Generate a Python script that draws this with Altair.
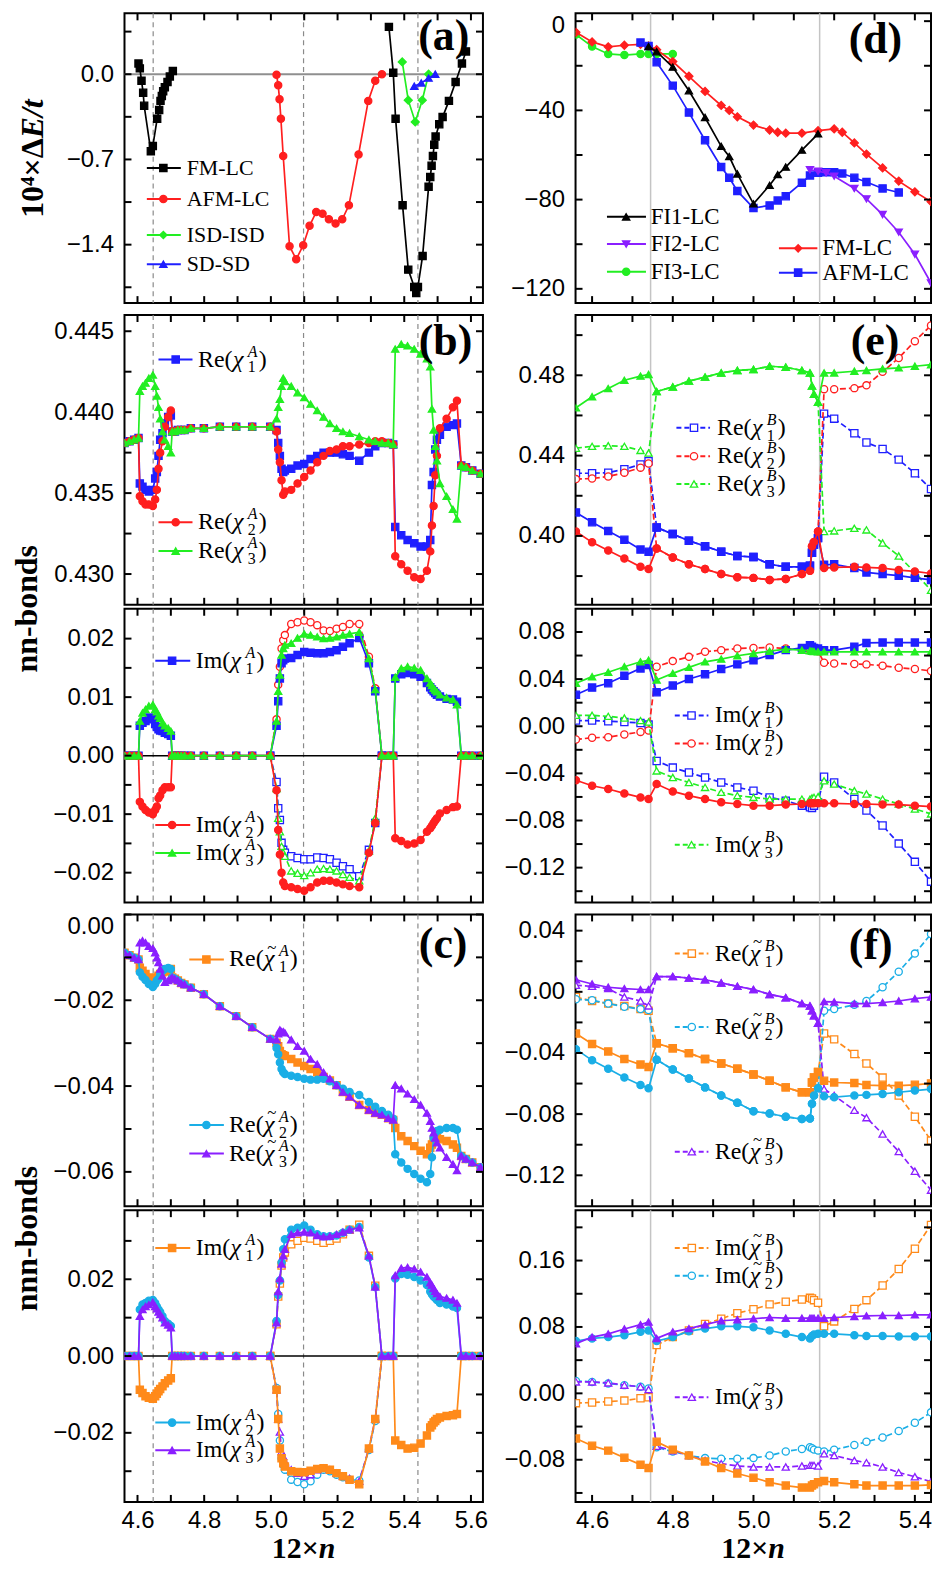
import altair as alt
import pandas as pd

SERIF = "Liberation Serif"
SANS = "Liberation Sans"

BLACK = "#000000"
RED = "#ff1f1f"
BLUE = "#1f1fff"
GREEN = "#22ee22"
PURPLE = "#8a1fff"
ORANGE = "#ff8a1a"
CYAN = "#1aaee6"

# ---------------- x grids ----------------
XL = [4.561, 4.576, 4.590, 4.603, 4.607, 4.615, 4.624, 4.634, 4.646, 4.653,
      4.658, 4.663, 4.668, 4.675, 4.682, 4.692, 4.700, 4.704, 4.712, 4.721,
      4.731, 4.741, 4.760, 4.799, 4.847, 4.896, 4.944, 4.998, 5.017, 5.022,
      5.027, 5.032, 5.037, 5.042, 5.061, 5.080, 5.100, 5.119, 5.139, 5.158,
      5.177, 5.197, 5.216, 5.236, 5.265, 5.294, 5.313, 5.333, 5.352, 5.367,
      5.373, 5.391, 5.410, 5.430, 5.449, 5.468, 5.478, 5.483, 5.488, 5.493,
      5.498, 5.507, 5.527, 5.546, 5.558, 5.571, 5.585, 5.604, 5.629]
XM = [4.998, 5.017, 5.022, 5.027, 5.032, 5.037, 5.042, 5.061, 5.080, 5.100,
      5.119, 5.139, 5.158, 5.177, 5.197, 5.216, 5.236, 5.265, 5.294, 5.313, 5.333]
XR = [4.56, 4.60, 4.64, 4.68, 4.72, 4.74, 4.76, 4.80, 4.84, 4.88,
      4.92, 4.96, 5.00, 5.04, 5.08, 5.12, 5.14, 5.145, 5.15, 5.16,
      5.175, 5.20, 5.25, 5.28, 5.32, 5.36, 5.40, 5.44]

# ---------------- panel (a) ----------------
A_FM1_X = [4.603, 4.607, 4.612, 4.617, 4.620, 4.640, 4.646, 4.659, 4.665, 4.669, 4.673, 4.677, 4.682, 4.690, 4.697, 4.706]
A_FM1_Y = [0.088, 0.048, -0.053, -0.152, -0.259, -0.632, -0.590, -0.365, -0.293, -0.219, -0.179, -0.139, -0.107, -0.064, -0.019, 0.027]
A_FM2_X = [5.354, 5.367, 5.374, 5.395, 5.412, 5.430, 5.436, 5.441, 5.455, 5.473, 5.478, 5.482, 5.486, 5.490, 5.494, 5.505, 5.515, 5.534, 5.554, 5.573, 5.585]
A_FM2_Y = [0.389, 0.013, -0.365, -1.077, -1.605, -1.747, -1.797, -1.747, -1.493, -0.925, -0.845, -0.752, -0.672, -0.579, -0.512, -0.411, -0.352, -0.219, -0.064, 0.088, 0.187]
A_AFM_X = [5.017, 5.022, 5.026, 5.030, 5.037, 5.056, 5.076, 5.097, 5.116, 5.136, 5.155, 5.174, 5.194, 5.214, 5.234, 5.263, 5.292, 5.313, 5.333]
A_AFM_Y = [-0.005, -0.091, -0.205, -0.365, -0.672, -1.413, -1.520, -1.405, -1.245, -1.131, -1.147, -1.192, -1.227, -1.192, -1.077, -0.659, -0.219, -0.053, 0.0]
A_ISD_X = [5.394, 5.412, 5.433, 5.454, 5.473]
A_ISD_Y = [0.101, -0.213, -0.392, -0.213, 0.0]
A_SD_X = [5.430, 5.451, 5.473, 5.493]
A_SD_Y = [-0.099, -0.072, -0.032, 0.0]

# ---------------- panel (d) ----------------
D_FM_X = [4.56, 4.60, 4.64, 4.68, 4.72, 4.74, 4.76, 4.80, 4.84, 4.88, 4.92, 4.94, 4.96, 5.00,
          5.04, 5.06, 5.08, 5.12, 5.16, 5.20, 5.22, 5.25, 5.28, 5.32, 5.36, 5.40, 5.44]
D_FM_Y = [-5.0, -9.3, -11.5, -10.8, -10.4, -11.1, -12.8, -18.1, -24.7, -31.5, -37.8, -40.0, -42.9, -46.6,
          -48.8, -49.8, -50.2, -50.2, -49.1, -48.3, -49.8, -54.6, -59.6, -65.8, -71.7, -76.5, -80.9]
D_FI1_X = [4.74, 4.76, 4.80, 4.84, 4.88, 4.92, 4.94, 4.96, 5.00, 5.04, 5.06, 5.08, 5.12, 5.16]
D_FI1_Y = [-11.4, -13.7, -20.6, -31.2, -43.2, -56.1, -60.7, -68.5, -81.9, -73.6, -68.8, -65.4, -57.8, -50.5]
D_FI2_X = [5.14, 5.16, 5.18, 5.20, 5.25, 5.28, 5.32, 5.36, 5.40, 5.44]
D_FI2_Y = [-66.6, -67.3, -68.0, -69.5, -75.0, -79.7, -86.7, -94.6, -104.5, -117.4]
D_FI3_X = [4.56, 4.60, 4.64, 4.68, 4.72, 4.74, 4.76, 4.80]
D_FI3_Y = [-6.0, -11.4, -14.7, -15.2, -14.7, -14.7, -14.7, -14.7]
D_AFM_X = [4.72, 4.74, 4.76, 4.80, 4.84, 4.88, 4.92, 4.94, 4.96, 5.00, 5.04, 5.06, 5.08, 5.12,
           5.14, 5.16, 5.18, 5.20, 5.22, 5.25, 5.28, 5.32, 5.36]
D_AFM_Y = [-9.6, -11.1, -18.4, -28.9, -41.0, -53.4, -65.4, -70.2, -76.1, -83.8, -82.6, -80.4, -78.5, -72.4,
           -69.2, -68.0, -67.7, -67.7, -68.3, -70.2, -72.1, -75.0, -76.8]

# ---------------- panel (b) Re ----------------
BRE_1 = [0.4381, 0.4382, 0.4383, 0.4384, 0.4356, 0.4354, 0.4352, 0.4351, 0.4352, 0.4359,
         0.4363, 0.4373, 0.4383, 0.4387, 0.4393, 0.4397, 0.4398, 0.4388, 0.4388, 0.4389,
         0.4389, 0.4389, 0.4390, 0.4390, 0.4391, 0.4391, 0.4391, 0.4391, 0.4389, 0.4381,
         0.4373, 0.4365, 0.4363, 0.4364, 0.4365, 0.4367, 0.4368, 0.4371, 0.4373, 0.4375,
         0.4375, 0.4375, 0.4374, 0.4373, 0.4370, 0.4375, 0.4379, 0.4381, 0.4381, 0.4380,
         0.4329, 0.4324, 0.4321, 0.4319, 0.4317, 0.4317, 0.4321, 0.4355, 0.4363, 0.4377,
         0.4383, 0.4386, 0.4391, 0.4392, 0.4393, 0.4367, 0.4366, 0.4364, 0.4362]
BRE_2 = [0.4381, 0.4382, 0.4383, 0.4384, 0.4348, 0.4345, 0.4343, 0.4343, 0.4342, 0.4346,
         0.4352, 0.4365, 0.4375, 0.4382, 0.4391, 0.4397, 0.4401, 0.4388, 0.4388, 0.4389,
         0.4389, 0.4389, 0.4390, 0.4390, 0.4391, 0.4391, 0.4391, 0.4391, 0.4388, 0.4377,
         0.4369, 0.4358, 0.4349, 0.4351, 0.4352, 0.4356, 0.4360, 0.4364, 0.4369, 0.4373,
         0.4376, 0.4377, 0.4379, 0.4379, 0.4380, 0.4381, 0.4382, 0.4382, 0.4381, 0.4380,
         0.4311, 0.4306, 0.4302, 0.4298, 0.4297, 0.4302, 0.4314, 0.4330, 0.4342, 0.4361,
         0.4373, 0.4390, 0.4396, 0.4403, 0.4407, 0.4367, 0.4366, 0.4364, 0.4362]
BRE_3 = [0.4381, 0.4382, 0.4383, 0.4384, 0.4413, 0.4416, 0.4418, 0.4421, 0.4423, 0.4416,
         0.4410, 0.4403, 0.4396, 0.4388, 0.4383, 0.4379, 0.4375, 0.4388, 0.4388, 0.4389,
         0.4389, 0.4389, 0.4390, 0.4390, 0.4391, 0.4391, 0.4391, 0.4391, 0.4396, 0.4403,
         0.4408, 0.4416, 0.4421, 0.4419, 0.4416, 0.4412, 0.4409, 0.4405, 0.4401, 0.4397,
         0.4393, 0.4390, 0.4388, 0.4387, 0.4385, 0.4383, 0.4382, 0.4381, 0.4381, 0.4380,
         0.4439, 0.4442, 0.4441, 0.4439, 0.4436, 0.4433, 0.4428, 0.4402, 0.4389, 0.4379,
         0.4370, 0.4356, 0.4348, 0.4340, 0.4334, 0.4367, 0.4366, 0.4364, 0.4362]

# ---------------- panel (b) Im ----------------
BIM_1 = [0, 0, 0, 0, 0.0051, 0.0056, 0.0059, 0.0065, 0.0062, 0.0054,
         0.0049, 0.0045, 0.0043, 0.0042, 0.0039, 0.0037, 0.0034, 0, 0, 0,
         0, 0, 0, 0, 0, 0, 0, 0, 0.0051, 0.0093,
         0.0132, 0.0158, 0.0163, 0.0166, 0.0167, 0.0172, 0.0177, 0.0176, 0.0175, 0.0175,
         0.0177, 0.0180, 0.0186, 0.0192, 0.0201, 0.0158, 0.0110, 0, 0, 0,
         0.0132, 0.0139, 0.0141, 0.0139, 0.0135, 0.0124, 0.0117, 0.0113, 0.0110, 0.0107,
         0.0104, 0.0101, 0.0097, 0.0096, 0.0092, 0, 0, 0, 0]
BIM_2 = [0, 0, 0, 0, -0.0079, -0.0087, -0.0093, -0.0097, -0.0100, -0.0093,
         -0.0087, -0.0073, -0.0068, -0.0059, -0.0054, -0.0054, -0.0054, 0, 0, 0,
         0, 0, 0, 0, 0, 0, 0, 0, -0.0059, -0.0127,
         -0.0169, -0.0200, -0.0217, -0.0223, -0.0225, -0.0228, -0.0231, -0.0225, -0.0217, -0.0214,
         -0.0214, -0.0217, -0.0220, -0.0223, -0.0225, -0.0166, -0.0115, 0, 0, 0,
         -0.0141, -0.0146, -0.0152, -0.0150, -0.0144, -0.0130, -0.0124, -0.0120, -0.0115, -0.0111,
         -0.0107, -0.0099, -0.0093, -0.0088, -0.0087, 0, 0, 0, 0]
BIM_3 = [0, 0, 0, 0, 0.0059, 0.0073, 0.0079, 0.0085, 0.0087, 0.0079,
         0.0075, 0.0068, 0.0064, 0.0056, 0.0051, 0.0047, 0.0042, 0, 0, 0,
         0, 0, 0, 0, 0, 0, 0, 0, 0.0059, 0.0110,
         0.0138, 0.0172, 0.0183, 0.0189, 0.0192, 0.0201, 0.0208, 0.0206, 0.0203, 0.0200,
         0.0201, 0.0203, 0.0206, 0.0208, 0.0211, 0.0166, 0.0113, 0, 0, 0,
         0.0134, 0.0149, 0.0152, 0.0150, 0.0146, 0.0132, 0.0124, 0.0120, 0.0115, 0.0112,
         0.0109, 0.0104, 0.0099, 0.0096, 0.0087, 0, 0, 0, 0]
BIM_1D = [0, -0.0045, -0.0090, -0.0110, -0.0149, -0.0161, -0.0166, -0.0172, -0.0175, -0.0177, -0.0177,
          -0.0174, -0.0175, -0.0177, -0.0183, -0.0189, -0.0194, -0.0206, -0.0161, -0.0115, 0]
BIM_2D = [0, 0.0062, 0.0121, 0.0152, 0.0183, 0.0197, 0.0206, 0.0225, 0.0228, 0.0231, 0.0228,
          0.0223, 0.0214, 0.0213, 0.0217, 0.0220, 0.0225, 0.0225, 0.0169, 0.0115, 0]
BIM_3D = [0, -0.0056, -0.0107, -0.0130, -0.0155, -0.0166, -0.0172, -0.0197, -0.0201, -0.0205, -0.0200,
          -0.0194, -0.0193, -0.0194, -0.0197, -0.0203, -0.0208, -0.0214, -0.0163, -0.0107, 0]

# ---------------- panel (c) Re ----------------
CRE_1 = [-0.0089, -0.0095, -0.0101, -0.0105, -0.0124, -0.0131, -0.0139, -0.0147, -0.0154, -0.0150,
         -0.0147, -0.0143, -0.0139, -0.0135, -0.0133, -0.0130, -0.0127, -0.0147, -0.0150, -0.0154,
         -0.0160, -0.0163, -0.0171, -0.0186, -0.0214, -0.0237, -0.0263, -0.0290, -0.0299, -0.0307,
         -0.0318, -0.0326, -0.0328, -0.0330, -0.0337, -0.0345, -0.0353, -0.0360, -0.0368, -0.0379,
         -0.0387, -0.0398, -0.0414, -0.0425, -0.0444, -0.0456, -0.0463, -0.0467, -0.0475, -0.0479,
         -0.0498, -0.0517, -0.0528, -0.0540, -0.0551, -0.0559, -0.0544, -0.0536, -0.0528, -0.0524,
         -0.0521, -0.0524, -0.0528, -0.0536, -0.0544, -0.0563, -0.0570, -0.0578, -0.0589]
CRE_2 = [-0.0089, -0.0095, -0.0101, -0.0105, -0.0135, -0.0145, -0.0153, -0.0162, -0.0169, -0.0162,
         -0.0154, -0.0150, -0.0140, -0.0131, -0.0127, -0.0125, -0.0127, -0.0147, -0.0150, -0.0154,
         -0.0160, -0.0163, -0.0171, -0.0186, -0.0214, -0.0237, -0.0263, -0.0290, -0.0311, -0.0326,
         -0.0345, -0.0360, -0.0368, -0.0372, -0.0376, -0.0379, -0.0383, -0.0385, -0.0385, -0.0383,
         -0.0389, -0.0398, -0.0406, -0.0414, -0.0421, -0.0437, -0.0448, -0.0458, -0.0467, -0.0476,
         -0.0559, -0.0578, -0.0593, -0.0605, -0.0616, -0.0624, -0.0605, -0.0566, -0.0521, -0.0509,
         -0.0505, -0.0502, -0.0498, -0.0498, -0.0502, -0.0563, -0.0570, -0.0578, -0.0589]
CRE_3 = [-0.0089, -0.0095, -0.0101, -0.0105, -0.0066, -0.0061, -0.0066, -0.0074, -0.0079, -0.0089,
         -0.0101, -0.0112, -0.0127, -0.0143, -0.0158, -0.0154, -0.0150, -0.0147, -0.0150, -0.0154,
         -0.0160, -0.0163, -0.0171, -0.0186, -0.0214, -0.0237, -0.0263, -0.0290, -0.0292, -0.0278,
         -0.0269, -0.0273, -0.0273, -0.0276, -0.0292, -0.0307, -0.0318, -0.0337, -0.0349, -0.0368,
         -0.0383, -0.0398, -0.0414, -0.0425, -0.0444, -0.0456, -0.0463, -0.0467, -0.0475, -0.0479,
         -0.0398, -0.0406, -0.0418, -0.0431, -0.0444, -0.0463, -0.0482, -0.0498, -0.0509, -0.0521,
         -0.0532, -0.0544, -0.0566, -0.0582, -0.0597, -0.0563, -0.0570, -0.0578, -0.0589]

# ---------------- panel (c) Im ----------------
CIM_1 = [0, 0, 0, 0, -0.0088, -0.0096, -0.0105, -0.0109, -0.0111, -0.0105,
         -0.0098, -0.0092, -0.0086, -0.0079, -0.0071, -0.0064, -0.0058, 0, 0, 0,
         0, 0, 0, 0, 0, 0, 0, 0, -0.0088, -0.0164,
         -0.0241, -0.0266, -0.0279, -0.0288, -0.0300, -0.0302, -0.0303, -0.0299, -0.0294, -0.0292,
         -0.0296, -0.0305, -0.0313, -0.0322, -0.0334, -0.0241, -0.0164, 0, 0, 0,
         -0.0220, -0.0232, -0.0241, -0.0239, -0.0228, -0.0207, -0.0186, -0.0180, -0.0173, -0.0169,
         -0.0164, -0.0160, -0.0156, -0.0154, -0.0151, 0, 0, 0, 0]
CIM_2 = [0, 0, 0, 0, 0.0121, 0.0134, 0.0138, 0.0144, 0.0146, 0.0138,
         0.0129, 0.0121, 0.0115, 0.0104, 0.0091, 0.0084, 0.0078, 0, 0, 0,
         0, 0, 0, 0, 0, 0, 0, 0, 0.0091, 0.0159,
         0.0197, 0.0244, 0.0278, 0.0304, 0.0329, 0.0334, 0.0340, 0.0329, 0.0317, 0.0312,
         0.0312, 0.0314, 0.0321, 0.0329, 0.0336, 0.0257, 0.0180, 0, 0, 0,
         0.0202, 0.0214, 0.0212, 0.0206, 0.0197, 0.0185, 0.0168, 0.0161, 0.0155, 0.0151,
         0.0146, 0.0138, 0.0134, 0.0129, 0.0125, 0, 0, 0, 0]
CIM_3 = [0, 0, 0, 0, 0.0104, 0.0121, 0.0129, 0.0134, 0.0140, 0.0129,
         0.0123, 0.0115, 0.0108, 0.0100, 0.0087, 0.0081, 0.0074, 0, 0, 0,
         0, 0, 0, 0, 0, 0, 0, 0, 0.0087, 0.0168,
         0.0202, 0.0240, 0.0261, 0.0278, 0.0317, 0.0321, 0.0323, 0.0321, 0.0314, 0.0311,
         0.0312, 0.0317, 0.0323, 0.0329, 0.0334, 0.0261, 0.0180, 0, 0, 0,
         0.0210, 0.0229, 0.0231, 0.0227, 0.0219, 0.0206, 0.0191, 0.0185, 0.0176, 0.0169,
         0.0163, 0.0155, 0.0151, 0.0146, 0.0138, 0, 0, 0, 0]
CIM_1D = [0, 0.0083, 0.0155, 0.0189, 0.0236, 0.0257, 0.0270, 0.0291, 0.0300, 0.0308, 0.0306,
          0.0300, 0.0295, 0.0300, 0.0306, 0.0317, 0.0329, 0.0342, 0.0261, 0.0183, 0]
CIM_2D = [0, -0.0083, -0.0151, -0.0220, -0.0266, -0.0283, -0.0296, -0.0322, -0.0328, -0.0334, -0.0326,
          -0.0309, -0.0296, -0.0300, -0.0309, -0.0316, -0.0322, -0.0324, -0.0245, -0.0169, 0]
CIM_3D = [0, -0.0088, -0.0164, -0.0198, -0.0249, -0.0262, -0.0275, -0.0296, -0.0305, -0.0313, -0.0309,
          -0.0296, -0.0292, -0.0296, -0.0305, -0.0313, -0.0319, -0.0326, -0.0241, -0.0164, 0]

# ---------------- panel (e) Re ----------------
ERE_1 = [0.4117, 0.4068, 0.4025, 0.3981, 0.3932, 0.3921, 0.4042, 0.4009, 0.3976, 0.3949,
         0.3921, 0.3900, 0.3895, 0.3859, 0.3846, 0.3846, 0.3851, 0.3916, 0.3957, 0.3989,
         0.3856, 0.3859, 0.3840, 0.3818, 0.3810, 0.3802, 0.3791, 0.3781]
ERE_2 = [0.4022, 0.3968, 0.3927, 0.3887, 0.3846, 0.3835, 0.3937, 0.3892, 0.3859, 0.3835,
         0.3810, 0.3794, 0.3791, 0.3781, 0.3786, 0.3810, 0.3826, 0.3949, 0.3970, 0.4022,
         0.3840, 0.3843, 0.3846, 0.3843, 0.3840, 0.3830, 0.3823, 0.3813]
ERE_3 = [0.4638, 0.4693, 0.4734, 0.4775, 0.4796, 0.4804, 0.4719, 0.4742, 0.4771, 0.4791,
         0.4812, 0.4824, 0.4829, 0.4845, 0.4840, 0.4824, 0.4812, 0.4747, 0.4706, 0.4666,
         0.4812, 0.4812, 0.4820, 0.4824, 0.4832, 0.4837, 0.4845, 0.4853]
ERE_1D = [0.4312, 0.4312, 0.4315, 0.4332, 0.4356, 0.4372, 0.4042, 0.4009, 0.3976, 0.3949,
          0.3921, 0.3900, 0.3895, 0.3859, 0.3846, 0.3846, 0.3851, 0.3916, 0.3957, 0.3989,
          0.4609, 0.4584, 0.4511, 0.4465, 0.4433, 0.4380, 0.4312, 0.4234]
ERE_2D = [0.4283, 0.4286, 0.4296, 0.4315, 0.4340, 0.4361, 0.3937, 0.3892, 0.3859, 0.3835,
          0.3810, 0.3794, 0.3791, 0.3781, 0.3786, 0.3810, 0.3826, 0.3949, 0.3970, 0.4022,
          0.4731, 0.4731, 0.4736, 0.4750, 0.4817, 0.4886, 0.4970, 0.5048]
ERE_3D = [0.4437, 0.4446, 0.4449, 0.4446, 0.4426, 0.4413, 0.4719, 0.4742, 0.4771, 0.4791,
          0.4812, 0.4824, 0.4829, 0.4845, 0.4840, 0.4824, 0.4812, 0.4747, 0.4706, 0.4666,
          0.4022, 0.4025, 0.4038, 0.4030, 0.3965, 0.3900, 0.3818, 0.3729]

# ---------------- panel (e) Im ----------------
EIM_1 = [0.0267, 0.0328, 0.0365, 0.0429, 0.0491, 0.0519, 0.0289, 0.0345, 0.0401, 0.0441,
         0.0486, 0.0525, 0.0561, 0.0604, 0.0646, 0.0665, 0.0688, 0.0674, 0.0665, 0.0660,
         0.0646, 0.0646, 0.0674, 0.0707, 0.0710, 0.0710, 0.0710, 0.0710]
EIM_2 = [-0.0458, -0.0505, -0.0533, -0.0570, -0.0604, -0.0618, -0.0491, -0.0553, -0.0589, -0.0618,
         -0.0646, -0.0660, -0.0674, -0.0674, -0.0665, -0.0660, -0.0654, -0.0654, -0.0654, -0.0654,
         -0.0654, -0.0654, -0.0660, -0.0660, -0.0665, -0.0665, -0.0674, -0.0682]
EIM_3 = [0.0365, 0.0421, 0.0458, 0.0505, 0.0547, 0.0561, 0.0393, 0.0449, 0.0500, 0.0547,
         0.0570, 0.0598, 0.0618, 0.0637, 0.0654, 0.0646, 0.0640, 0.0637, 0.0634, 0.0632,
         0.0632, 0.0632, 0.0632, 0.0632, 0.0632, 0.0632, 0.0632, 0.0632]
EIM_1D = [0.0048, 0.0048, 0.0042, 0.0036, 0.0028, 0.0014, -0.0295, -0.0351, -0.0393, -0.0435,
          -0.0477, -0.0519, -0.0547, -0.0604, -0.0632, -0.0674, -0.0688, -0.0693, -0.0674, -0.0646,
          -0.0429, -0.0477, -0.0618, -0.0716, -0.0842, -0.0996, -0.1151, -0.1319]
EIM_2D = [-0.0112, -0.0098, -0.0093, -0.0070, -0.0048, -0.0036, 0.0505, 0.0553, 0.0589, 0.0632,
          0.0646, 0.0660, 0.0665, 0.0668, 0.0660, 0.0654, 0.0646, 0.0646, 0.0640, 0.0637,
          0.0539, 0.0533, 0.0528, 0.0525, 0.0514, 0.0497, 0.0486, 0.0469]
EIM_3D = [0.0093, 0.0093, 0.0084, 0.0070, 0.0048, 0.0036, -0.0379, -0.0435, -0.0477, -0.0519,
          -0.0561, -0.0589, -0.0604, -0.0618, -0.0618, -0.0618, -0.0618, -0.0609, -0.0604, -0.0598,
          -0.0463, -0.0491, -0.0547, -0.0575, -0.0618, -0.0660, -0.0702, -0.0744]

# ---------------- panel (f) Re ----------------
FRE_1 = [-0.0273, -0.0341, -0.0390, -0.0439, -0.0476, -0.0491, -0.0337, -0.0369, -0.0401, -0.0439,
         -0.0469, -0.0503, -0.0540, -0.0582, -0.0625, -0.0657, -0.0657, -0.0593, -0.0561, -0.0525,
         -0.0582, -0.0593, -0.0597, -0.0610, -0.0614, -0.0614, -0.0608, -0.0599]
FRE_2 = [-0.0375, -0.0448, -0.0503, -0.0561, -0.0610, -0.0631, -0.0444, -0.0508, -0.0567, -0.0625,
         -0.0678, -0.0725, -0.0781, -0.0796, -0.0817, -0.0832, -0.0828, -0.0732, -0.0678, -0.0631,
         -0.0683, -0.0689, -0.0678, -0.0674, -0.0668, -0.0657, -0.0646, -0.0636]
FRE_3 = [0.0079, 0.0051, 0.0030, 0.0021, 0.0015, 0.0015, 0.0100, 0.0100, 0.0090, 0.0079,
         0.0058, 0.0036, 0.0015, -0.0017, -0.0038, -0.0077, -0.0092, -0.0124, -0.0156, -0.0205,
         -0.0064, -0.0066, -0.0077, -0.0077, -0.0070, -0.0060, -0.0045, -0.0034]
FRE_1D = [-0.0034, -0.0060, -0.0077, -0.0092, -0.0113, -0.0124, -0.0337, -0.0369, -0.0401, -0.0439,
          -0.0469, -0.0503, -0.0540, -0.0582, -0.0625, -0.0657, -0.0657, -0.0593, -0.0561, -0.0525,
          -0.0273, -0.0311, -0.0407, -0.0469, -0.0561, -0.0678, -0.0817, -0.0973]
FRE_2D = [-0.0049, -0.0055, -0.0077, -0.0098, -0.0113, -0.0119, -0.0444, -0.0508, -0.0567, -0.0625,
          -0.0678, -0.0725, -0.0781, -0.0796, -0.0817, -0.0832, -0.0828, -0.0732, -0.0678, -0.0631,
          -0.0124, -0.0113, -0.0085, -0.0060, 0.0030, 0.0132, 0.0250, 0.0378]
FRE_3D = [0.0043, 0.0036, 0.0021, -0.0034, -0.0060, -0.0092, 0.0100, 0.0100, 0.0090, 0.0079,
          0.0058, 0.0036, 0.0015, -0.0017, -0.0038, -0.0077, -0.0092, -0.0124, -0.0156, -0.0205,
          -0.0636, -0.0678, -0.0774, -0.0823, -0.0930, -0.1045, -0.1173, -0.1297]

# ---------------- panel (f) Im ----------------
FIM_1 = [-0.0544, -0.0631, -0.0690, -0.0776, -0.0859, -0.0899, -0.0583, -0.0678, -0.0749, -0.0820,
         -0.0899, -0.0966, -0.1017, -0.1072, -0.1111, -0.1135, -0.1135, -0.1111, -0.1096, -0.1072,
         -0.1056, -0.1072, -0.1096, -0.1111, -0.1111, -0.1111, -0.1111, -0.1103]
FIM_2 = [0.0631, 0.0662, 0.0678, 0.0701, 0.0741, 0.0757, 0.0631, 0.0678, 0.0749, 0.0780,
         0.0808, 0.0808, 0.0796, 0.0757, 0.0717, 0.0678, 0.0662, 0.0690, 0.0709, 0.0717,
         0.0717, 0.0717, 0.0701, 0.0690, 0.0690, 0.0686, 0.0686, 0.0686]
FIM_3 = [0.0599, 0.0678, 0.0717, 0.0776, 0.0828, 0.0859, 0.0662, 0.0741, 0.0780, 0.0828,
         0.0875, 0.0887, 0.0899, 0.0914, 0.0906, 0.0906, 0.0906, 0.0906, 0.0906, 0.0906,
         0.0906, 0.0914, 0.0926, 0.0934, 0.0938, 0.0938, 0.0946, 0.0946]
FIM_1D = [-0.0118, -0.0110, -0.0099, -0.0087, -0.0059, -0.0047, 0.0583, 0.0678, 0.0757, 0.0835,
          0.0899, 0.0966, 0.1013, 0.1072, 0.1103, 0.1131, 0.1151, 0.1143, 0.1123, 0.1092,
          0.0808, 0.0867, 0.1017, 0.1123, 0.1300, 0.1498, 0.1742, 0.2030]
FIM_2D = [0.0150, 0.0138, 0.0118, 0.0099, 0.0079, 0.0059, -0.0650, -0.0701, -0.0749, -0.0780,
          -0.0788, -0.0788, -0.0780, -0.0749, -0.0701, -0.0670, -0.0650, -0.0662, -0.0678, -0.0690,
          -0.0701, -0.0678, -0.0623, -0.0583, -0.0532, -0.0453, -0.0355, -0.0229]
FIM_3D = [0.0138, 0.0138, 0.0126, 0.0099, 0.0079, 0.0047, -0.0638, -0.0690, -0.0749, -0.0808,
          -0.0847, -0.0875, -0.0887, -0.0887, -0.0887, -0.0875, -0.0867, -0.0867, -0.0867, -0.0875,
          -0.0729, -0.0749, -0.0808, -0.0835, -0.0887, -0.0954, -0.1005, -0.1064]

# ---------------- axes: ticks & labels ----------------
XT_L = [4.6, 4.7, 4.8, 4.9, 5.0, 5.1, 5.2, 5.3, 5.4, 5.5, 5.6]
XT_R = [4.6, 4.7, 4.8, 4.9, 5.0, 5.1, 5.2, 5.3, 5.4]
XLAB_L = [4.6, 4.8, 5.0, 5.2, 5.4, 5.6]
XLAB_R = [4.6, 4.8, 5.0, 5.2, 5.4]
VLINE_L = [4.647, 5.098, 5.441]
VLINE_R = [4.745, 5.164]

YT_A = [-1.75, -1.4, -1.05, -0.7, -0.35, 0.0, 0.35]
YL_A = [-1.4, -0.7, 0.0]
YT_D = [-120, -100, -80, -60, -40, -20, 0]
YL_D = [-120, -80, -40, 0]
YT_BRE = [0.43, 0.4325, 0.435, 0.4375, 0.44, 0.4425, 0.445]
YL_BRE = [0.430, 0.435, 0.440, 0.445]
YT_BIM = [-0.02, -0.015, -0.01, -0.005, 0.0, 0.005, 0.01, 0.015, 0.02]
YL_BIM = [-0.02, -0.01, 0.0, 0.01, 0.02]
YT_CRE = [-0.06, -0.05, -0.04, -0.03, -0.02, -0.01, 0.0]
YL_CRE = [-0.06, -0.04, -0.02, 0.0]
YT_CIM = [-0.03, -0.02, -0.01, 0.0, 0.01, 0.02, 0.03]
YL_CIM = [-0.02, 0.0, 0.02]
YT_ERE = [0.38, 0.40, 0.42, 0.44, 0.46, 0.48, 0.50]
YL_ERE = [0.40, 0.44, 0.48]
YT_EIM = [-0.14, -0.12, -0.10, -0.08, -0.06, -0.04, -0.02, 0.0, 0.02, 0.04, 0.06, 0.08]
YL_EIM = [-0.12, -0.08, -0.04, 0.0, 0.04, 0.08]
YT_FRE = [-0.12, -0.10, -0.08, -0.06, -0.04, -0.02, 0.0, 0.02, 0.04]
YL_FRE = [-0.12, -0.08, -0.04, 0.0, 0.04]
YT_FIM = [-0.12, -0.08, -0.04, 0.0, 0.04, 0.08, 0.12, 0.16, 0.20]
YL_FIM = [-0.08, 0.0, 0.08, 0.16]

for arr in [BRE_1, BRE_2, BRE_3, BIM_1, BIM_2, BIM_3, CRE_1, CRE_2, CRE_3, CIM_1, CIM_2, CIM_3]:
    assert len(arr) == len(XL), len(arr)
for arr in [BIM_1D, BIM_2D, BIM_3D, CIM_1D, CIM_2D, CIM_3D]:
    assert len(arr) == len(XM), len(arr)
for arr in [ERE_1, ERE_2, ERE_3, ERE_1D, ERE_2D, ERE_3D, EIM_1, EIM_2, EIM_3, EIM_1D, EIM_2D, EIM_3D,
            FRE_1, FRE_2, FRE_3, FRE_1D, FRE_2D, FRE_3D, FIM_1, FIM_2, FIM_3, FIM_1D, FIM_2D, FIM_3D]:
    assert len(arr) == len(XR), len(arr)

# ---------------- layout ----------------
WL, WR = 360, 357
H_A, H_BRE, H_BIM, H_CRE, H_CIM = 291, 291, 295, 293, 293
LABEL_FS = 24

DUMMY = pd.DataFrame({"d": [0]})


def yaxis(values, fmt, flush=False, zero_offset=False):
    kw = {}
    if zero_offset:
        kw["labelOffset"] = {"condition": {"test": "datum.value == 0", "value": 4}, "value": 0}
    return alt.Axis(values=values, format=fmt, ticks=False, domain=False, grid=False,
                    labelFont=SANS, labelFontSize=LABEL_FS, labelColor="black", labelPadding=11,
                    labelOverlap=False, labelFlush=flush, title=None, **kw)


def xaxis(values):
    return alt.Axis(values=values, format=".1f", ticks=False, domain=False, grid=False,
                    labelFont=SANS, labelFontSize=LABEL_FS, labelColor="black", labelPadding=7,
                    labelOverlap=False, labelFlush=False, title=None)


def xaxis_blank():
    return alt.Axis(labels=False, ticks=False, domain=False, grid=False, title=None, minExtent=0)


class Panel:
    def __init__(self, W, H, refW, refH, xdom, ydom, xax, yax):
        self.W, self.H = W, H
        self.sx, self.sy = W / refW, H / refH
        self.xdom, self.ydom = xdom, ydom
        self.xax, self.yax = xax, yax
        self.layers = []

    def ex(self):
        return alt.X("x:Q", scale=alt.Scale(domain=self.xdom, nice=False, zero=False), axis=self.xax)

    def ey(self):
        return alt.Y("y:Q", scale=alt.Scale(domain=self.ydom, nice=False, zero=False), axis=self.yax)

    def vlines(self, xs, dashed):
        df = pd.DataFrame({"x": xs})
        if dashed:
            m = alt.Chart(df).mark_rule(color="#8a8a8a", strokeWidth=1.2, strokeDash=[5, 4])
        else:
            m = alt.Chart(df).mark_rule(color="#c4c4c4", strokeWidth=1.5)
        self.layers.append(m.encode(x=self.ex()))

    def hline(self, y, color, width):
        df = pd.DataFrame({"y": [y]})
        self.layers.append(alt.Chart(df).mark_rule(color=color, strokeWidth=width).encode(y=self.ey()))

    def series(self, xs, ys, color, shape, dashed=False, size=52):
        df = pd.DataFrame({"x": xs, "y": ys})
        lk = dict(color=color, strokeWidth=1.7, clip=True)
        if dashed:
            lk["strokeDash"] = [6, 3]
        self.layers.append(alt.Chart(df).mark_line(**lk).encode(x=self.ex(), y=self.ey()))
        self.layers.append(alt.Chart(df).mark_point(
            shape=shape, filled=True, fill="white" if dashed else color, stroke=color,
            strokeWidth=1.3, size=size, opacity=1, fillOpacity=1, clip=True
        ).encode(x=self.ex(), y=self.ey()))

    def ticks(self, xt, yt, tl=7):
        W, H = self.W, self.H
        xdf = pd.DataFrame({"x": xt})
        ydf = pd.DataFrame({"y": yt})
        rk = dict(color="black", strokeWidth=2)
        self.layers += [
            alt.Chart(xdf).mark_rule(**rk).encode(x=self.ex(), y=alt.value(H), y2=alt.value(H - tl)),
            alt.Chart(xdf).mark_rule(**rk).encode(x=self.ex(), y=alt.value(0), y2=alt.value(tl)),
            alt.Chart(ydf).mark_rule(**rk).encode(y=self.ey(), x=alt.value(0), x2=alt.value(tl)),
            alt.Chart(ydf).mark_rule(**rk).encode(y=self.ey(), x=alt.value(W - tl), x2=alt.value(W)),
        ]

    def _t(self, s, x, y, size, style="normal", weight="normal", align="left", angle=0, font=SERIF):
        self.layers.append(alt.Chart(DUMMY).mark_text(
            text=s, font=font, fontSize=size, fontStyle=style, fontWeight=weight, align=align,
            baseline="middle", angle=angle, color="black").encode(x=alt.value(x), y=alt.value(y)))

    def text(self, s, x, y, size, **kw):
        self._t(s, x * self.sx, y * self.sy, size, **kw)

    def leg(self, x1, x2, xm, y, color, shape, dashed=False):
        x1, x2, xm, y = x1 * self.sx, x2 * self.sx, xm * self.sx, y * self.sy
        rk = dict(color=color, strokeWidth=2)
        if dashed:
            rk["strokeDash"] = [5, 3]
        self.layers.append(alt.Chart(DUMMY).mark_rule(**rk).encode(
            x=alt.value(x1), x2=alt.value(x2), y=alt.value(y)))
        self.layers.append(alt.Chart(DUMMY).mark_point(
            shape=shape, filled=True, fill="white" if dashed else color, stroke=color,
            strokeWidth=1.3, size=54, opacity=1, fillOpacity=1).encode(x=alt.value(xm), y=alt.value(y)))

    def chi(self, pre, tilde, sub, sup, x0, y, fs=24):
        x0, y = x0 * self.sx, y * self.sy
        self._t(pre + "(", x0, y, fs)
        self._t("\u03c7", x0 + 35, y, fs, style="italic")
        if tilde:
            self._t("~", x0 + 43, y - 12, 17, align="center")
        self._t(sup, x0 + 50, y - 8, 16, style="italic")
        self._t(sub, x0 + 50, y + 8, 16)
        self._t(")", x0 + 61, y, fs)

    def plabel(self, s, xr, y):
        self._t(s, xr * self.sx, y * self.sy, 44, weight="bold", align="right")

    def xtitle(self):
        xj = self.W / 2 + 15
        yy = self.H + 47
        self._t("12\u00d7", xj, yy, 30, weight="bold", align="right")
        self._t("n", xj, yy, 30, weight="bold", style="italic", align="left")

    def chart(self):
        return alt.layer(*self.layers).properties(width=self.W, height=self.H)


XDOM_L = [4.561, 5.636]
XDOM_R = [4.559, 5.44]

# ---- (a) ----
pa = Panel(WL, H_A, 369, 298, XDOM_L, [-1.88, 0.50], xaxis_blank(), yaxis(YL_A, ".1f"))
pa.vlines(VLINE_L, True)
pa.hline(0, "#8f8f8f", 2)
pa.series(A_FM1_X, A_FM1_Y, BLACK, "square")
pa.series(A_FM2_X, A_FM2_Y, BLACK, "square")
pa.series(A_AFM_X, A_AFM_Y, RED, "circle")
pa.series(A_ISD_X, A_ISD_Y, GREEN, "diamond", size=64)
pa.series(A_SD_X, A_SD_Y, BLUE, "triangle-up")
pa.ticks(XT_L, YT_A)
for lab, col, shp, yy in [("FM-LC", BLACK, "square", 159), ("AFM-LC", RED, "circle", 191),
                          ("ISD-ISD", GREEN, "diamond", 228), ("SD-SD", BLUE, "triangle-up", 258)]:
    pa.leg(23, 58, 40, yy, col, shp)
    pa.text(lab, 64, yy, 22)
pa.plabel("(a)", 355, 24)
# y title: 10^4 x dE/t, with italic E/t
YJ = H_A * 0.5 - 20
pa._t("10\u2074\u00d7\u0394", -92, YJ, 32, weight="bold", align="right", angle=270)
pa._t("E/t", -92, YJ, 32, weight="bold", style="italic", align="left", angle=270)

# ---- (d) ----
pdd = Panel(WR, H_A, 370, 298, XDOM_R, [-126.4, 3.5], xaxis_blank(), yaxis(YL_D, "d", zero_offset=True))
pdd.vlines(VLINE_R, False)
pdd.series(D_FI3_X, D_FI3_Y, GREEN, "circle")
pdd.series(D_FM_X, D_FM_Y, RED, "diamond", size=64)
pdd.series(D_AFM_X, D_AFM_Y, BLUE, "square")
pdd.series(D_FI1_X, D_FI1_Y, BLACK, "triangle-up")
pdd.series(D_FI2_X, D_FI2_Y, PURPLE, "triangle-down")
pdd.ticks(XT_R, YT_D)
for lab, col, shp, yy in [("FI1-LC", BLACK, "triangle-up", 209.3), ("FI2-LC", PURPLE, "triangle-down", 237.3),
                          ("FI3-LC", GREEN, "circle", 265.7)]:
    pdd.leg(32.7, 73.3, 52.7, yy, col, shp)
    pdd.text(lab, 78.3, yy, 23)
for lab, col, shp, yy in [("FM-LC", RED, "diamond", 241.7), ("AFM-LC", BLUE, "square", 266.7)]:
    pdd.leg(211.7, 251.7, 231.7, yy, col, shp)
    pdd.text(lab, 256.7, yy, 23)
pdd.plabel("(d)", 340, 27)

# ---- (b) Re ----
pbr = Panel(WL, H_BRE, 369, 295, XDOM_L, [0.4281, 0.4460], xaxis_blank(), yaxis(YL_BRE, ".3f"))
pbr.vlines(VLINE_L, True)
pbr.series(XL, BRE_1, BLUE, "square")
pbr.series(XL, BRE_2, RED, "circle")
pbr.series(XL, BRE_3, GREEN, "triangle-up")
pbr.ticks(XT_L, YT_BRE)
for sub, col, shp, yy in [("1", BLUE, "square", 45.3), ("2", RED, "circle", 211), ("3", GREEN, "triangle-up", 240.3)]:
    pbr.leg(35, 70, 52.7, yy, col, shp)
    pbr.chi("Re", False, sub, "A", 75.7, yy)
pbr.plabel("(b)", 358, 27)

# ---- (b) Im ----
pbi = Panel(WL, H_BIM, 369, 298, XDOM_L, [-0.0251, 0.0251], xaxis_blank(), yaxis(YL_BIM, ".2f"))
pbi.vlines(VLINE_L, True)
pbi.hline(0, BLACK, 1.5)
pbi.series(XM, BIM_1D, BLUE, "square", dashed=True)
pbi.series(XM, BIM_2D, RED, "circle", dashed=True)
pbi.series(XM, BIM_3D, GREEN, "triangle-up", dashed=True)
pbi.series(XL, BIM_1, BLUE, "square")
pbi.series(XL, BIM_2, RED, "circle")
pbi.series(XL, BIM_3, GREEN, "triangle-up")
pbi.ticks(XT_L, YT_BIM)
for sub, col, shp, yy in [("1", BLUE, "square", 52.7), ("2", RED, "circle", 219.3), ("3", GREEN, "triangle-up", 247.7)]:
    pbi.leg(31.7, 67.7, 49, yy, col, shp)
    pbi.chi("Im", False, sub, "A", 73.3, yy)

# ---- (c) Re ----
pcr = Panel(WL, H_CRE, 369, 298, XDOM_L, [-0.068, 0.0], xaxis_blank(), yaxis(YL_CRE, ".2f", flush=True))
pcr.vlines(VLINE_L, True)
pcr.series(XL, CRE_1, ORANGE, "square")
pcr.series(XL, CRE_2, CYAN, "circle")
pcr.series(XL, CRE_3, PURPLE, "triangle-up")
pcr.ticks(XT_L, YT_CRE)
for sub, col, shp, yy in [("1", ORANGE, "square", 46), ("2", CYAN, "circle", 215), ("3", PURPLE, "triangle-up", 244.3)]:
    pcr.leg(66.7, 102.3, 84.3, yy, col, shp)
    pcr.chi("Re", True, sub, "A", 107.7, yy)
pcr.plabel("(c)", 353, 31)

# ---- (c) Im ----
pci = Panel(WL, H_CIM, 369, 298, XDOM_L, [-0.038, 0.038], xaxis(XLAB_L), yaxis(YL_CIM, ".2f"))
pci.vlines(VLINE_L, True)
pci.hline(0, BLACK, 1.5)
pci.series(XM, CIM_1D, ORANGE, "square", dashed=True)
pci.series(XM, CIM_2D, CYAN, "circle", dashed=True)
pci.series(XM, CIM_3D, PURPLE, "triangle-up", dashed=True)
pci.series(XL, CIM_1, ORANGE, "square")
pci.series(XL, CIM_2, CYAN, "circle")
pci.series(XL, CIM_3, PURPLE, "triangle-up")
pci.ticks(XT_L, YT_CIM)
for sub, col, shp, yy in [("1", ORANGE, "square", 38.7), ("2", CYAN, "circle", 217), ("3", PURPLE, "triangle-up", 245.3)]:
    pci.leg(31.7, 67.7, 49, yy, col, shp)
    pci.chi("Im", False, sub, "A", 73.3, yy)
pci.xtitle()

# ---- (e) Re ----
per = Panel(WR, H_BRE, 370, 295, XDOM_R, [0.3657, 0.510], xaxis_blank(), yaxis(YL_ERE, ".2f"))
per.vlines(VLINE_R, False)
per.series(XR, ERE_1D, BLUE, "square", dashed=True)
per.series(XR, ERE_2D, RED, "circle", dashed=True)
per.series(XR, ERE_3D, GREEN, "triangle-up", dashed=True)
per.series(XR, ERE_1, BLUE, "square")
per.series(XR, ERE_2, RED, "circle")
per.series(XR, ERE_3, GREEN, "triangle-up")
per.ticks(XT_R, YT_ERE)
for sub, col, shp, yy in [("1", BLUE, "square", 114.7), ("2", RED, "circle", 143.7), ("3", GREEN, "triangle-up", 172)]:
    per.leg(105, 140, 123.3, yy, col, shp, dashed=True)
    per.chi("Re", False, sub, "B", 147.3, yy)
per.plabel("(e)", 337, 27)

# ---- (e) Im ----
pei = Panel(WR, H_BIM, 370, 298, XDOM_R, [-0.1496, 0.0997], xaxis_blank(), yaxis(YL_EIM, ".2f"))
pei.vlines(VLINE_R, False)
pei.series(XR, EIM_1D, BLUE, "square", dashed=True)
pei.series(XR, EIM_2D, RED, "circle", dashed=True)
pei.series(XR, EIM_3D, GREEN, "triangle-up", dashed=True)
pei.series(XR, EIM_1, BLUE, "square")
pei.series(XR, EIM_2, RED, "circle")
pei.series(XR, EIM_3, GREEN, "triangle-up")
pei.ticks(XT_R, YT_EIM)
for sub, col, shp, yy in [("1", BLUE, "square", 108.3), ("2", RED, "circle", 136.7), ("3", GREEN, "triangle-up", 239.3)]:
    pei.leg(103.3, 138.3, 120.7, yy, col, shp, dashed=True)
    pei.chi("Im", False, sub, "B", 145, yy)

# ---- (f) Re ----
pfr = Panel(WR, H_CRE, 370, 298, XDOM_R, [-0.1402, 0.0506], xaxis_blank(), yaxis(YL_FRE, ".2f"))
pfr.vlines(VLINE_R, False)
pfr.series(XR, FRE_1D, ORANGE, "square", dashed=True)
pfr.series(XR, FRE_2D, CYAN, "circle", dashed=True)
pfr.series(XR, FRE_3D, PURPLE, "triangle-up", dashed=True)
pfr.series(XR, FRE_1, ORANGE, "square")
pfr.series(XR, FRE_2, CYAN, "circle")
pfr.series(XR, FRE_3, PURPLE, "triangle-up")
pfr.ticks(XT_R, YT_FRE)
for sub, col, shp, yy in [("1", ORANGE, "square", 40), ("2", CYAN, "circle", 115), ("3", PURPLE, "triangle-up", 242.3)]:
    pfr.leg(103.3, 138.3, 121, yy, col, shp, dashed=True)
    pfr.chi("Re", True, sub, "B", 145, yy)
pfr.plabel("(f)", 330, 32)

# ---- (f) Im ----
pfi = Panel(WR, H_CIM, 370, 298, XDOM_R, [-0.1308, 0.2207], xaxis(XLAB_R), yaxis(YL_FIM, ".2f"))
pfi.vlines(VLINE_R, False)
pfi.series(XR, FIM_1D, ORANGE, "square", dashed=True)
pfi.series(XR, FIM_2D, CYAN, "circle", dashed=True)
pfi.series(XR, FIM_3D, PURPLE, "triangle-up", dashed=True)
pfi.series(XR, FIM_1, ORANGE, "square")
pfi.series(XR, FIM_2, CYAN, "circle")
pfi.series(XR, FIM_3, PURPLE, "triangle-up")
pfi.ticks(XT_R, YT_FIM)
for sub, col, shp, yy in [("1", ORANGE, "square", 38.7), ("2", CYAN, "circle", 67), ("3", PURPLE, "triangle-up", 191)]:
    pfi.leg(103.3, 138.3, 121, yy, col, shp, dashed=True)
    pfi.chi("Im", True, sub, "B", 145, yy)
pfi.xtitle()


def side_title(s):
    return alt.TitleParams(text=s, orient="left", anchor="middle", font=SERIF, fontSize=32,
                           fontWeight="bold", color="black", offset=8)


left = alt.vconcat(
    pa.chart(),
    alt.vconcat(pbr.chart(), pbi.chart(), spacing=0, title=side_title("nn-bonds")),
    alt.vconcat(pcr.chart(), pci.chart(), spacing=0, title=side_title("nnn-bonds")),
    spacing=8,
)
right = alt.vconcat(
    pdd.chart(),
    alt.vconcat(per.chart(), pei.chart(), spacing=0),
    alt.vconcat(pfr.chart(), pfi.chart(), spacing=0),
    spacing=8,
)

chart = alt.hconcat(
    left, right, spacing=14,
    padding={"left": 3, "top": 0, "right": 0, "bottom": 0},
    background="white",
).configure_view(stroke="black", strokeWidth=2)

chart.save("out.html", embed_options={"renderer": "svg", "actions": False})
